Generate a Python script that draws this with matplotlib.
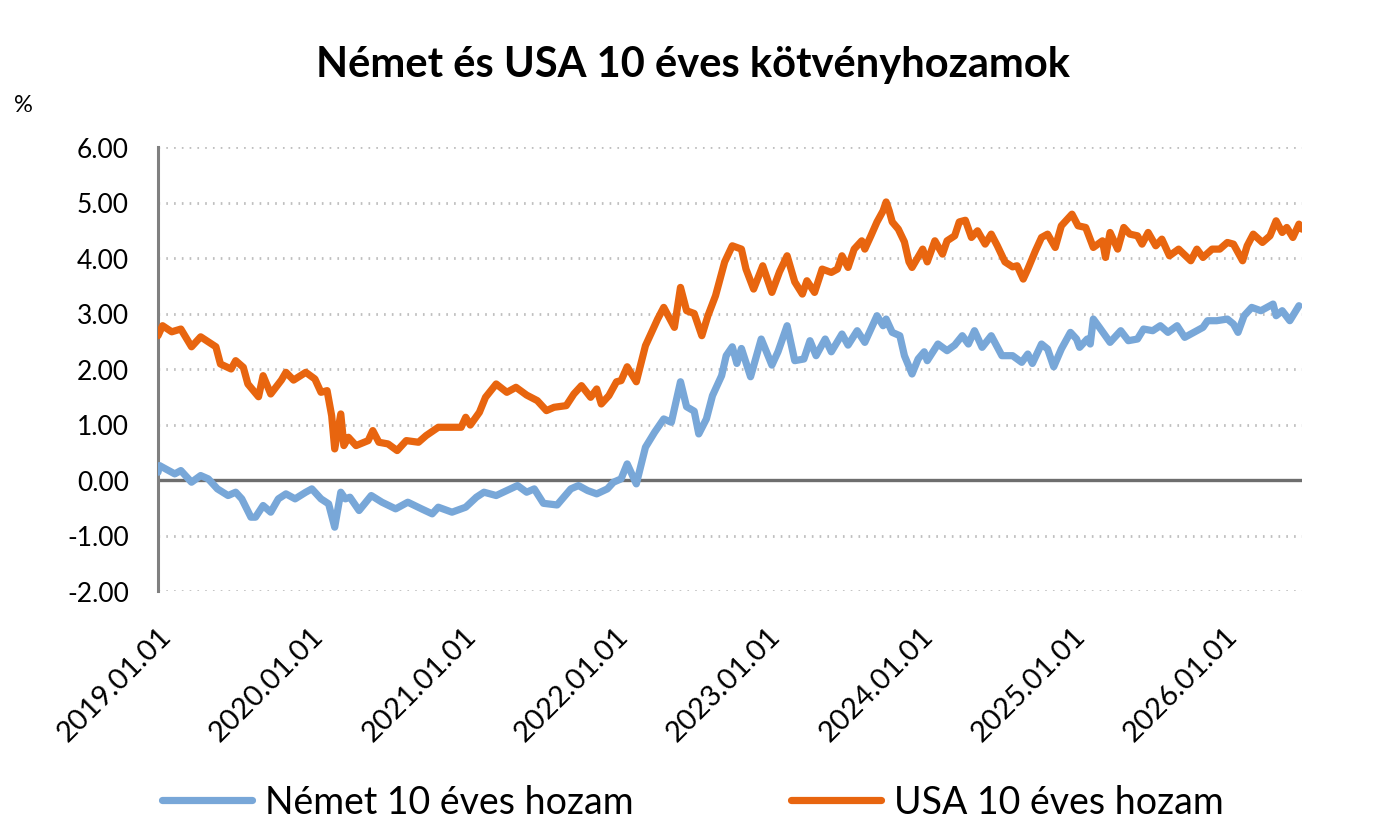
import matplotlib
matplotlib.use("Agg")
import matplotlib.pyplot as plt
import numpy as np

plt.rcParams['font.family'] = ['Lato', 'DejaVu Sans']

title = "Német és USA 10 éves kötvényhozamok"
y_unit = "%"
series_names = ["Német 10 éves hozam", "USA 10 éves hozam"]
year_ticks = [2019, 2020, 2021, 2022, 2023, 2024, 2025, 2026]
tick_labels = ["2019.01.01", "2020.01.01", "2021.01.01", "2022.01.01",
               "2023.01.01", "2024.01.01", "2025.01.01", "2026.01.01"]
y_ticks = [-2, -1, 0, 1, 2, 3, 4, 5, 6]

# USA 10y yield: decimal year, value
usa_t = [2019.00, 2019.03, 2019.09, 2019.15, 2019.22, 2019.28, 2019.38, 2019.41, 2019.48, 2019.51,
         2019.56, 2019.59, 2019.66, 2019.69, 2019.74, 2019.81, 2019.84, 2019.89, 2019.97, 2020.03,
         2020.07, 2020.11, 2020.14, 2020.16, 2020.20, 2020.22, 2020.25, 2020.30, 2020.38, 2020.41,
         2020.45, 2020.51, 2020.57, 2020.63, 2020.71, 2020.76, 2020.84, 2020.91, 2020.99, 2021.02,
         2021.05, 2021.11, 2021.15, 2021.22, 2021.29, 2021.35, 2021.42, 2021.49, 2021.55, 2021.60,
         2021.68, 2021.73, 2021.78, 2021.84, 2021.88, 2021.91, 2021.96, 2022.01, 2022.04, 2022.08,
         2022.14, 2022.20, 2022.24, 2022.28, 2022.32, 2022.39, 2022.43, 2022.47, 2022.52, 2022.57,
         2022.61, 2022.66, 2022.72, 2022.77, 2022.83, 2022.86, 2022.91, 2022.97, 2023.03, 2023.08,
         2023.13, 2023.18, 2023.23, 2023.26, 2023.31, 2023.36, 2023.42, 2023.46, 2023.49, 2023.53,
         2023.57, 2023.62, 2023.64, 2023.68, 2023.72, 2023.76, 2023.78, 2023.80, 2023.82, 2023.86,
         2023.90, 2023.93, 2023.95, 2023.99, 2024.02, 2024.05, 2024.10, 2024.15, 2024.18, 2024.23,
         2024.26, 2024.30, 2024.34, 2024.38, 2024.43, 2024.47, 2024.51, 2024.56, 2024.61, 2024.64,
         2024.68, 2024.71, 2024.76, 2024.80, 2024.84, 2024.89, 2024.93, 2025.00, 2025.04, 2025.09,
         2025.14, 2025.20, 2025.22, 2025.25, 2025.30, 2025.34, 2025.38, 2025.43, 2025.46, 2025.50,
         2025.55, 2025.59, 2025.64, 2025.70, 2025.78, 2025.82, 2025.86, 2025.92, 2025.97, 2026.02,
         2026.06, 2026.12, 2026.15, 2026.19, 2026.25, 2026.30, 2026.34, 2026.38, 2026.41, 2026.45,
         2026.49, 2026.51]
usa_v = [2.60, 2.78, 2.67, 2.72, 2.40, 2.58, 2.40, 2.09, 2.00, 2.15,
         2.03, 1.73, 1.50, 1.88, 1.55, 1.80, 1.94, 1.80, 1.94, 1.82,
         1.58, 1.61, 1.16, 0.56, 1.19, 0.62, 0.77, 0.62, 0.71, 0.89,
         0.68, 0.65, 0.53, 0.71, 0.68, 0.80, 0.95, 0.95, 0.95, 1.13,
         0.99, 1.22, 1.49, 1.73, 1.58, 1.67, 1.53, 1.43, 1.25, 1.31,
         1.34, 1.55, 1.70, 1.49, 1.64, 1.37, 1.52, 1.77, 1.79, 2.04,
         1.77, 2.42, 2.66, 2.90, 3.11, 2.75, 3.47, 3.05, 3.00, 2.60,
         2.96, 3.32, 3.93, 4.22, 4.16, 3.80, 3.44, 3.86, 3.38, 3.75,
         4.04, 3.57, 3.35, 3.59, 3.38, 3.80, 3.74, 3.80, 4.04, 3.83,
         4.16, 4.31, 4.16, 4.40, 4.65, 4.85, 5.01, 4.85, 4.65, 4.52,
         4.29, 3.93, 3.83, 4.02, 4.16, 3.93, 4.31, 4.07, 4.31, 4.40,
         4.65, 4.68, 4.37, 4.49, 4.25, 4.43, 4.22, 3.93, 3.84, 3.86,
         3.62, 3.80, 4.13, 4.37, 4.43, 4.19, 4.58, 4.79, 4.58, 4.55,
         4.19, 4.31, 4.01, 4.46, 4.16, 4.55, 4.43, 4.40, 4.25, 4.46,
         4.22, 4.34, 4.04, 4.16, 3.95, 4.16, 4.01, 4.16, 4.16, 4.28,
         4.25, 3.95, 4.22, 4.43, 4.28, 4.40, 4.67, 4.46, 4.55, 4.37,
         4.61, 4.52]

# German 10y yield: decimal year, value
ger_t = [2019.00, 2019.01, 2019.07, 2019.11, 2019.15, 2019.22, 2019.28, 2019.33, 2019.39, 2019.46,
         2019.51, 2019.55, 2019.61, 2019.64, 2019.69, 2019.74, 2019.79, 2019.84, 2019.90, 2019.97,
         2020.01, 2020.07, 2020.12, 2020.16, 2020.20, 2020.23, 2020.26, 2020.32, 2020.40, 2020.47,
         2020.56, 2020.64, 2020.73, 2020.80, 2020.84, 2020.93, 2021.02, 2021.09, 2021.14, 2021.22,
         2021.29, 2021.36, 2021.42, 2021.47, 2021.53, 2021.62, 2021.71, 2021.76, 2021.82, 2021.88,
         2021.95, 2021.99, 2022.04, 2022.08, 2022.14, 2022.20, 2022.26, 2022.32, 2022.37, 2022.43,
         2022.47, 2022.52, 2022.55, 2022.60, 2022.64, 2022.70, 2022.73, 2022.77, 2022.80, 2022.83,
         2022.89, 2022.96, 2023.03, 2023.07, 2023.13, 2023.18, 2023.24, 2023.28, 2023.32, 2023.38,
         2023.42, 2023.49, 2023.53, 2023.59, 2023.64, 2023.68, 2023.72, 2023.76, 2023.78, 2023.82,
         2023.87, 2023.90, 2023.95, 2023.99, 2024.03, 2024.05, 2024.12, 2024.18, 2024.23, 2024.28,
         2024.32, 2024.36, 2024.41, 2024.47, 2024.54, 2024.61, 2024.67, 2024.71, 2024.74, 2024.80,
         2024.84, 2024.88, 2024.93, 2024.99, 2025.03, 2025.05, 2025.10, 2025.12, 2025.14, 2025.18,
         2025.25, 2025.32, 2025.37, 2025.43, 2025.47, 2025.53, 2025.58, 2025.63, 2025.69, 2025.74,
         2025.80, 2025.86, 2025.89, 2025.95, 2026.02, 2026.06, 2026.09, 2026.13, 2026.18, 2026.24,
         2026.28, 2026.32, 2026.34, 2026.38, 2026.43, 2026.47, 2026.49]
ger_v = [0.14, 0.26, 0.17, 0.11, 0.17, -0.04, 0.08, 0.02, -0.16, -0.28,
         -0.22, -0.34, -0.67, -0.67, -0.46, -0.58, -0.34, -0.25, -0.34, -0.22,
         -0.16, -0.34, -0.43, -0.85, -0.22, -0.34, -0.31, -0.55, -0.28, -0.40,
         -0.52, -0.40, -0.52, -0.61, -0.49, -0.58, -0.49, -0.31, -0.22, -0.28,
         -0.19, -0.10, -0.22, -0.16, -0.42, -0.45, -0.16, -0.10, -0.19, -0.25,
         -0.16, -0.04, 0.02, 0.29, -0.07, 0.59, 0.86, 1.10, 1.04, 1.77,
         1.32, 1.24, 0.83, 1.10, 1.52, 1.88, 2.24, 2.40, 2.10, 2.37,
         1.86, 2.54, 2.07, 2.31, 2.78, 2.15, 2.18, 2.51, 2.24, 2.54,
         2.31, 2.63, 2.43, 2.69, 2.48, 2.72, 2.96, 2.78, 2.90, 2.66,
         2.60, 2.24, 1.91, 2.18, 2.31, 2.15, 2.45, 2.33, 2.43, 2.60,
         2.45, 2.69, 2.39, 2.60, 2.24, 2.24, 2.12, 2.27, 2.10, 2.45,
         2.36, 2.04, 2.36, 2.66, 2.54, 2.39, 2.54, 2.45, 2.90, 2.75,
         2.48, 2.69, 2.51, 2.54, 2.72, 2.69, 2.78, 2.66, 2.78, 2.57,
         2.66, 2.75, 2.87, 2.87, 2.90, 2.81, 2.66, 2.96, 3.11, 3.05,
         3.11, 3.17, 2.96, 3.05, 2.87, 3.05, 3.14]

blue = "#78A7D8"
orange = "#E8650F"

fig = plt.figure(figsize=(13.86, 8.28), dpi=100)
ax = fig.add_axes([158/1386, 1-592/828, (1302-158)/1386, (592-148)/828])

ax.plot(ger_t, ger_v, color=blue, lw=5.2, solid_joinstyle='round', solid_capstyle='round',
        label=series_names[0], zorder=3)
ax.plot(usa_t, usa_v, color=orange, lw=5.2, solid_joinstyle='round', solid_capstyle='round',
        label=series_names[1], zorder=3)

ax.set_xlim(2019.0, 2026.51)
ax.set_ylim(-2, 6)
ax.set_yticks(y_ticks)
ax.set_yticklabels([f"{v:.2f}" for v in y_ticks], fontsize=19)
ax.set_xticks(year_ticks)
ax.set_xticklabels(tick_labels, rotation=45, ha='right', rotation_mode='anchor', fontsize=21)
ax.tick_params(axis='y', length=0, pad=21)
ax.tick_params(axis='x', length=0, pad=22)

for v in y_ticks:
    if v != 0:
        ax.axhline(v, color="#BFBFBF", lw=2.0, ls=(0, (0.6, 2.2)), zorder=1)
ax.axhline(0, color="#6E6E6E", lw=2.4, zorder=2)

for s in ['top', 'right', 'bottom']:
    ax.spines[s].set_visible(False)
ax.spines['left'].set_color("#808080")
ax.spines['left'].set_linewidth(2.2)

fig.text(0.5, 1-65/828, title, ha='center', va='center', fontsize=30, fontweight='bold')
fig.text(14/1386, 1-105/828, y_unit, ha='left', va='center', fontsize=17)

fig.legend(loc='center', bbox_to_anchor=(0.5, 1-803/828), ncol=2, frameon=False,
           fontsize=27, handlelength=2.4, handletextpad=0.35, columnspacing=4.2)

fig.savefig("out.png", dpi=100)
